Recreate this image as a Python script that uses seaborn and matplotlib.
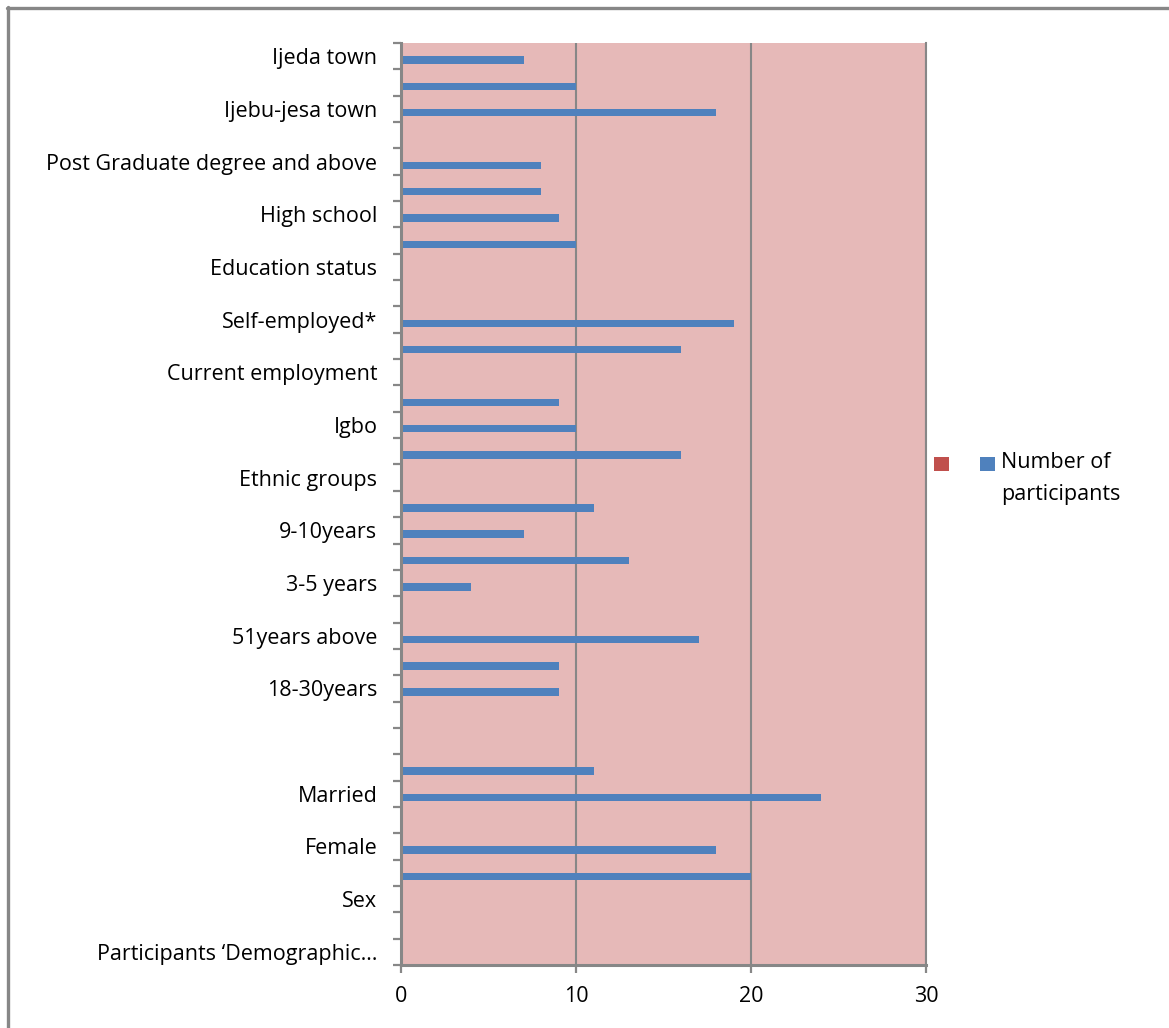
import numpy as np
import pandas as pd
import seaborn as sns
import matplotlib
matplotlib.use("Agg")
import matplotlib.pyplot as plt
from matplotlib.patches import Rectangle
from matplotlib.lines import Line2D
from matplotlib.ticker import FixedLocator

# Category slots, listed from the bottom of the axis to the top.
# Only every other slot carries a visible label.
slot_labels = [
    "Participants \u2018Demographic\u2026", "", "Sex", "", "Female", "",
    "Married", "", "", "", "18-30years", "", "51years above", "",
    "3-5 years", "", "9-10years", "", "Ethnic groups", "", "Igbo", "",
    "Current employment", "", "Self-employed*", "", "Education status", "",
    "High school", "", "Post Graduate degree and above", "",
    "Ijebu-jesa town", "", "Ijeda town",
]

# Number of participants per slot (None = no bar)
participants = [
    None, None, None, 20, 18, None, 24, 11, None, None, 9, 9, 17, None,
    4, 13, 7, 11, None, 16, 10, 9, None, 16, 19, None, None, 10, 9, 8,
    8, None, 18, 10, 7,
]

series_names = ["", "Number of participants"]
series_colors = ["#C0504D", "#4F81BD"]
x_ticks = [0, 10, 20, 30]

n_slots = len(slot_labels)
rows = [
    {"slot": i, "series": series_names[1], "value": v}
    for i, v in enumerate(participants) if v is not None
]
df = pd.DataFrame(rows)

W, H, DPI = 1169, 1028, 100
FS = 15.5
sns.set_theme(style="white")
plt.rcParams["font.family"] = ["Open Sans", "DejaVu Sans"]

fig = plt.figure(figsize=(W / DPI, H / DPI), dpi=DPI)
ax = fig.add_axes([401 / W, 1 - 965 / H, (926 - 401) / W, (965 - 43) / H])
ax.set_facecolor("#E6B9B8")

order = list(range(n_slots))[::-1]
sns.barplot(
    data=df, x="value", y="slot", hue="series", orient="h",
    order=order, hue_order=series_names,
    palette=dict(zip(series_names, series_colors)), saturation=1,
    width=0.571, dodge=True, errorbar=None, legend=False,
    linewidth=0, ax=ax,
)

grid_col = "#878787"
ax.set_xlim(0, 30)
ax.set_ylim(n_slots - 0.5, -0.5)
ax.set_xticks(x_ticks)
ax.set_xticklabels([str(t) for t in x_ticks], fontsize=FS, color="black")
ax.xaxis.grid(True, color=grid_col, linewidth=1.5)
ax.yaxis.grid(False)
ax.set_axisbelow(True)

ax.set_yticks(range(n_slots))
ax.set_yticklabels([slot_labels[k] for k in order], fontsize=FS, color="black")
ax.yaxis.set_minor_locator(FixedLocator(np.arange(-0.5, n_slots, 1.0)))
ax.tick_params(axis="y", which="major", length=0, pad=17)
ax.tick_params(axis="y", which="minor", left=True, length=6,
               width=1.6, color=grid_col)
ax.tick_params(axis="x", which="major", bottom=True, length=6,
               width=1.6, color=grid_col, pad=9)
ax.set_xlabel("")
ax.set_ylabel("")

ax.spines["top"].set_visible(False)
ax.spines["right"].set_color(grid_col)
ax.spines["right"].set_linewidth(1.5)
for side in ("left", "bottom"):
    ax.spines[side].set_color(grid_col)
    ax.spines[side].set_linewidth(2.2)

# Legend entries to the right of the plot area
for x0, color in zip((934, 980), series_colors):
    fig.add_artist(Rectangle((x0 / W, 1 - 471 / H), 15 / W, 14 / H,
                             transform=fig.transFigure, facecolor=color,
                             edgecolor="none"))
fig.text(1001 / W, 1 - 463 / H, "Number of", fontsize=FS,
         ha="left", va="center", color="black")
fig.text(1001 / W, 1 - 494 / H, "participants", fontsize=FS,
         ha="left", va="center", color="black")

# Chart-area border (top and left edges)
fig.add_artist(Line2D([7 / W, 1], [1 - 8 / H, 1 - 8 / H],
                      transform=fig.transFigure, color=grid_col, linewidth=2.4))
fig.add_artist(Line2D([8 / W, 8 / W], [0, 1 - 7 / H],
                      transform=fig.transFigure, color=grid_col, linewidth=2.4))

fig.savefig("out.png", dpi=DPI, facecolor="white")
